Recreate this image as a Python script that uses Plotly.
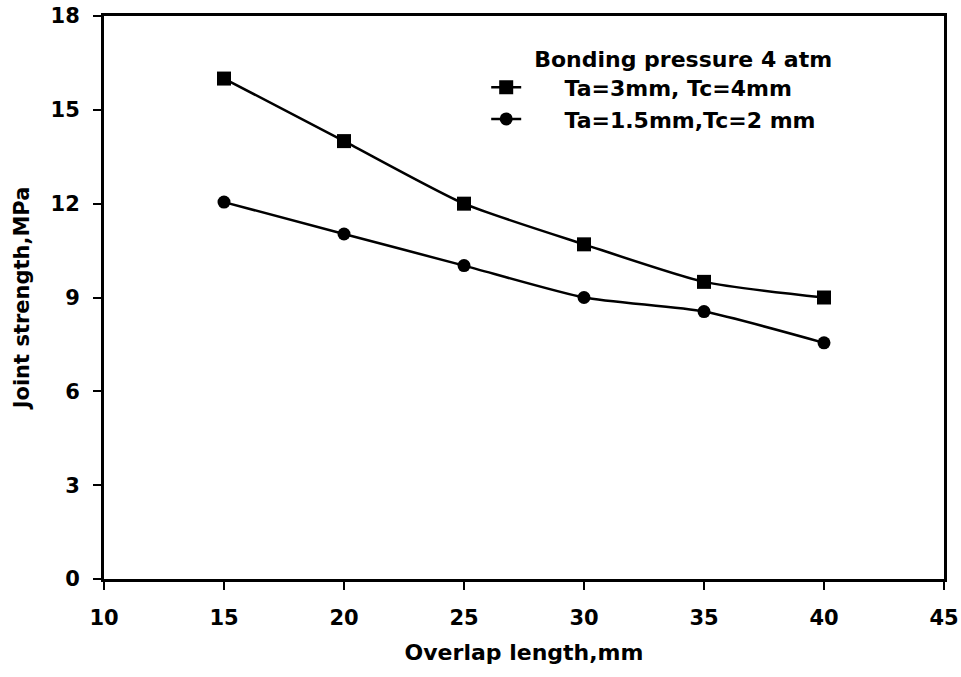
import plotly.graph_objects as go

overlap = [15, 20, 25, 30, 35, 40]
s1_name = "Ta=3mm, Tc=4mm"
s1_vals = [16.0, 14.0, 12.0, 10.7, 9.5, 9.0]
s2_name = "Ta=1.5mm,Tc=2 mm"
s2_vals = [12.05, 11.03, 10.02, 9.0, 8.55, 7.55]
legend_title = "Bonding pressure 4 atm"
x_title = "Overlap length,mm"
y_title = "Joint strength,MPa"
x_ticks = [10, 15, 20, 25, 30, 35, 40, 45]
y_ticks = [0, 3, 6, 9, 12, 15, 18]

fam = "DejaVu Sans, Arial, sans-serif"
tick_font = dict(family=fam, color="black", size=21, weight="bold")
xtitle_font = dict(family=fam, color="black", size=22, weight="bold")
ytitle_font = dict(family=fam, color="black", size=21, weight="bold")
leg_font = dict(family=fam, color="black", size=22, weight="bold")

pad = "\u00a0"
fig = go.Figure()
fig.add_trace(go.Scatter(
    x=overlap, y=s1_vals, name=pad * 5 + s1_name, mode="lines+markers",
    line=dict(color="black", width=2.5, shape="spline", smoothing=0.6),
    marker=dict(symbol="square", size=14, color="black"),
))
fig.add_trace(go.Scatter(
    x=overlap, y=s2_vals, name=pad * 5 + s2_name, mode="lines+markers",
    line=dict(color="black", width=2.5, shape="spline", smoothing=0.6),
    marker=dict(symbol="circle", size=13, color="black"),
))

axis_common = dict(
    showline=True, linecolor="black", linewidth=3, mirror=True,
    ticks="outside", ticklen=8, tickwidth=2, tickcolor="black",
    showgrid=False, zeroline=False, tickfont=tick_font, automargin=False,
)
fig.update_layout(
    width=961, height=677,
    margin=dict(l=104, r=17, t=16, b=98, autoexpand=False),
    plot_bgcolor="white", paper_bgcolor="white",
    font=tick_font,
    xaxis=dict(range=[10, 45], tickvals=x_ticks, ticklabelstandoff=10,
               title=dict(text=x_title, font=xtitle_font, standoff=16), **axis_common),
    yaxis=dict(range=[0, 18], tickvals=y_ticks, ticklabelstandoff=9,
               title=dict(text=y_title, font=ytitle_font, standoff=16), **axis_common),
    legend=dict(
        x=0.455, y=0.961, xanchor="left", yanchor="top",
        bgcolor="rgba(0,0,0,0)",
        title=dict(text=pad * 6 + legend_title, side="top center", font=leg_font),
        font=leg_font, tracegroupgap=0,
    ),
    showlegend=True,
)

fig.write_html("out.html")
